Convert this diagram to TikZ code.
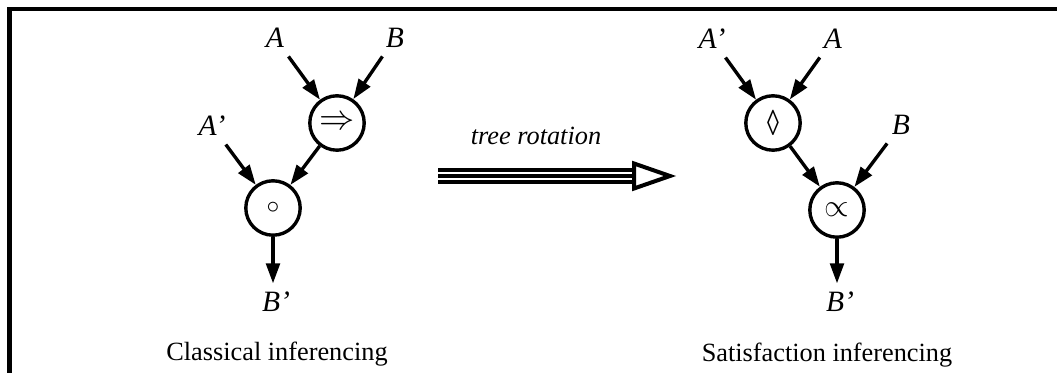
\documentclass[tikz,border=0pt]{standalone}
\usepackage{fontspec}
\setmainfont{Liberation Serif}
\usetikzlibrary{arrows.meta}

\newcommand*{\xmax}{1057}
\newcommand*{\ymax}{373}

\begin{document}
\begin{tikzpicture}
[
	x=0.025cm, y=-0.025cm,
	op/.style={circle,draw,line width=2.4pt,minimum size=1.36cm,inner sep=0pt,font=\fontsize{17}{20}\selectfont},
	lbl/.style={inner sep=6pt,font=\fontsize{21}{24}\selectfont\itshape},
	caption/.style={anchor=base,inner sep=0pt,font=\fontsize{18.7}{22}\selectfont},
	rotlbl/.style={anchor=base,inner sep=0pt,font=\fontsize{18.7}{22}\selectfont\itshape},
	arr/.style={line width=2.4pt,-{Triangle[length=0.5cm,width=0.34cm]}},
	rotline/.style={line width=2.85pt},
	rothead/.style={line width=2.85pt,fill=white,line join=miter}
]
	\useasboundingbox (0,0) rectangle (\xmax,\ymax);

	% frame
	\draw[line width=2.85pt] (9.5,\ymax) -- (9.5,8.7) -- (\xmax,8.7);

	% classical inferencing
	\node[op] at (337,123) (imp) {\scalebox{1.45}{$\Rightarrow$}};
	\node[op] at (273,208) (comp) {\scalebox{1.05}{$\circ$}};
	\node[lbl] at (275,38) (ca) {A};
	\node[lbl] at (395,38) (cb) {B};
	\node[lbl] at (212,126) (cap) {A'};
	\node[lbl] at (276,302) (cbp) {B'};
	\node[caption] at (277,360) (ccap) {Classical inferencing};

	\foreach \from/\to in {ca/imp,cb/imp,cap/comp,imp/comp} {
		\draw[arr] (\from) -- (\to);
	}
	\draw[arr] (comp) -- (comp |- cbp.north);

	% tree rotation
	\coordinate (rotfrom) at (438,176);
	\coordinate (rotto) at (634,176);
	\node[rotlbl] at (536,145) (rot) {tree rotation};

	\foreach \dy in {-6,0,6} {
		\draw[rotline] ([yshift=\dy*0.025cm]rotfrom) -- ([yshift=\dy*0.025cm]rotto);
	}
	\draw[rothead] (rotto) ++(0,-12.5) -- ++(36,12.5) -- ++(-36,12.5) -- cycle;

	% satisfaction inferencing
	\node[op] at (773,123) (poss) {\scalebox{1}[1.5]{◊}};
	\node[op] at (837,210) (prop) {\scalebox{1.3}{$\propto$}};
	\node[lbl] at (712,39) (sap) {A'};
	\node[lbl] at (833,39) (sa) {A};
	\node[lbl] at (901,125) (sb) {B};
	\node[lbl] at (840,302) (sbp) {B'};
	\node[caption] at (827,361) (scap) {Satisfaction inferencing};

	\foreach \from/\to in {sap/poss,sa/poss,poss/prop,sb/prop} {
		\draw[arr] (\from) -- (\to);
	}
	\draw[arr] (prop) -- (prop |- sbp.north);

\end{tikzpicture}
\end{document}
